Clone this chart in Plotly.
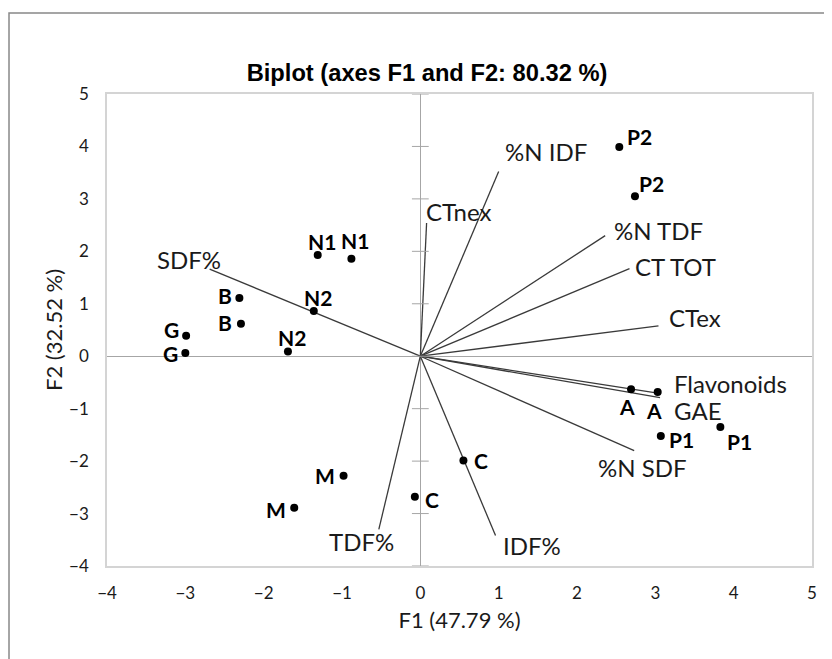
import plotly.graph_objects as go

# ---- data ----
obs_labels = ["G", "G", "B", "B", "N2", "N2", "N1", "N1", "M", "M", "C", "C", "A", "A", "P1", "P1", "P2", "P2"]
obs_f1 = [-2.99, -3.00, -2.31, -2.29, -1.36, -1.69, -1.31, -0.88, -0.98, -1.61, 0.55, -0.07, 2.69, 3.03, 3.07, 3.83, 2.54, 2.74]
obs_f2 = [0.39, 0.06, 1.11, 0.62, 0.86, 0.09, 1.93, 1.86, -2.28, -2.89, -1.99, -2.68, -0.63, -0.68, -1.52, -1.35, 3.99, 3.05]

var_labels = ["SDF%", "CTnex", "%N IDF", "%N TDF", "CT TOT", "CTex", "Flavonoids", "GAE", "%N SDF", "TDF%", "IDF%"]
var_f1 = [-2.69, 0.08, 1.00, 2.36, 2.67, 3.04, 3.01, 3.06, 2.73, -0.53, 0.96]
var_f2 = [1.66, 2.54, 3.52, 2.30, 1.67, 0.58, -0.70, -0.79, -1.80, -3.30, -3.42]

x_ticks = [-4, -3, -2, -1, 0, 1, 2, 3, 4, 5]
y_ticks = [-4, -3, -2, -1, 0, 1, 2, 3, 4, 5]

title_text = "Biplot (axes F1 and F2: 80.32 %)"
x_title = "F1 (47.79 %)"
y_title = "F2 (32.52 %)"

# ---- label placement (pixel offsets of text centre from its point) ----
obs_offsets = [(-15, -6), (-15, 0), (-14, -3), (-16, -1), (4, -14), (4, -14), (4, -14), (4, -18),
               (-19, 0), (-18, 2), (18, 0), (17, 3), (-4, 17), (-4, 19), (21, 4), (19, 14), (20, -10), (17, -13)]
var_offsets = [(-21, -10), (32, -12), (47, -20), (53, -5), (46, -2), (37, -8), (74, -9), (38, 13),
               (8, 17), (-17, 12), (36, 10)]

AX = "#a6a6a6"
FONT = "Lato"
W, H = 824, 651  # page body has an 8px margin

fig = go.Figure()

# vectors
vx, vy = [], []
for x, y in zip(var_f1, var_f2):
    vx += [0, x, None]
    vy += [0, y, None]
fig.add_trace(go.Scatter(x=vx, y=vy, mode="lines", line=dict(color="#3a3a3a", width=1.3),
                         hoverinfo="skip", showlegend=False))

# cross ticks on the vertical zero axis
fig.add_trace(go.Scatter(x=[0] * len(y_ticks), y=y_ticks, mode="markers",
                         marker=dict(symbol="line-ew", size=12, line=dict(color=AX, width=1)),
                         hoverinfo="skip", showlegend=False, cliponaxis=False))

# observations
fig.add_trace(go.Scatter(x=obs_f1, y=obs_f2, mode="markers",
                         marker=dict(color="black", size=8),
                         text=obs_labels, showlegend=False, cliponaxis=False))

for lab, x, y, (dx, dy) in zip(obs_labels, obs_f1, obs_f2, obs_offsets):
    fig.add_annotation(x=x, y=y, text=f"<b>{lab}</b>", showarrow=False,
                       xanchor="center", yanchor="middle", xshift=dx, yshift=-dy,
                       font=dict(family=FONT, size=21, color="black"))

for lab, x, y, (dx, dy) in zip(var_labels, var_f1, var_f2, var_offsets):
    fig.add_annotation(x=x, y=y, text=lab, showarrow=False,
                       xanchor="center", yanchor="middle", xshift=dx, yshift=-dy,
                       font=dict(family=FONT, size=24, color="#1a1a1a"))

# outer chart frame
fig.add_shape(type="rect", xref="paper", yref="paper", x0=-0.139, y0=-0.25, x1=1.06, y1=1.1716,
              line=dict(color="#888888", width=1.5), fillcolor="rgba(0,0,0,0)", layer="below")

fig.update_layout(
    width=W, height=H,
    margin=dict(l=99, r=20, t=86, b=93, autoexpand=False),
    paper_bgcolor="white", plot_bgcolor="white",
    title=dict(text=f"<b>{title_text}</b>", x=419 / W, xanchor="center", y=1 - 65 / H, yanchor="middle",
               font=dict(family="Liberation Sans, Arial", size=23.7, color="black")),
    xaxis=dict(range=[-4, 5], tickvals=x_ticks, ticktext=[str(t).replace("-", "\u2212") for t in x_ticks],
               showgrid=False, zeroline=True, zerolinecolor=AX, zerolinewidth=1,
               showline=True, mirror=True, linecolor="#d4d4d4", linewidth=1.5,
               ticks="", ticklabelstandoff=11,
               tickfont=dict(family=FONT, size=17, color="#1a1a1a"),
               title=dict(text=x_title, standoff=10, font=dict(family=FONT, size=22, color="#1a1a1a"))),
    yaxis=dict(range=[-4, 5], tickvals=y_ticks, ticktext=[str(t).replace("-", "\u2212") for t in y_ticks],
               showgrid=False, zeroline=True, zerolinecolor=AX, zerolinewidth=1,
               showline=True, mirror=True, linecolor="#d4d4d4", linewidth=1.5,
               ticks="", ticklabelstandoff=13,
               tickfont=dict(family=FONT, size=17, color="#1a1a1a"),
               title=dict(text=y_title, standoff=0, font=dict(family=FONT, size=22, color="#1a1a1a"))),
)

fig.write_html("out.html")
